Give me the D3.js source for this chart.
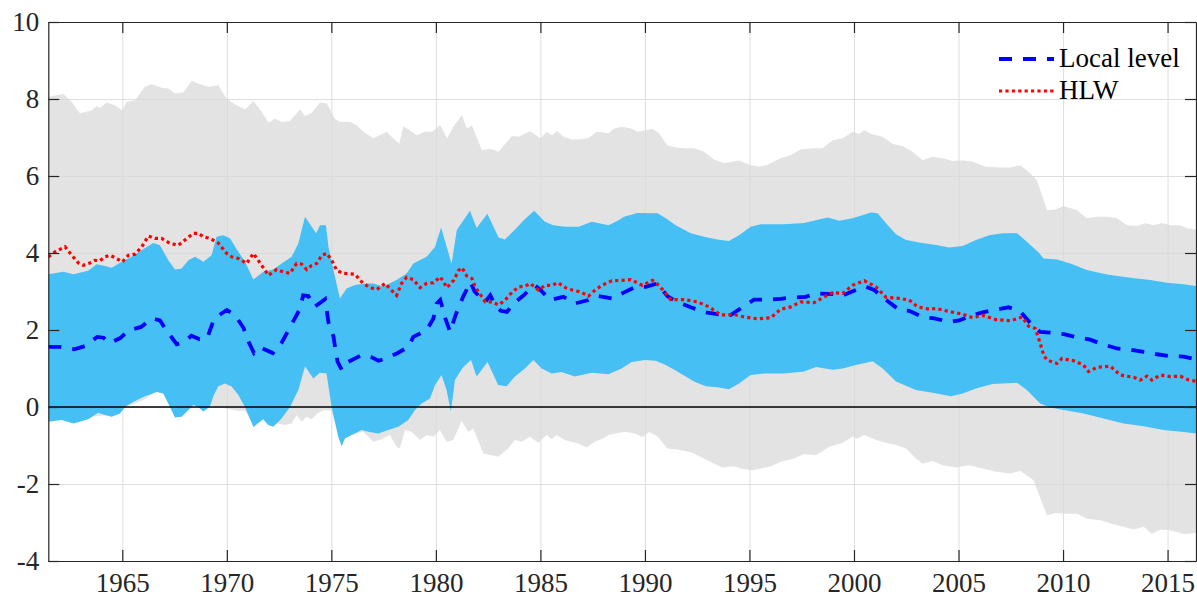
<!DOCTYPE html>
<html lang="en">

<head>
    <meta charset="UTF-8">
    <title>Natural rate: local level vs HLW</title>
    <style>
        body { margin: 0; background: #fff; }
        text { font-family: "Liberation Serif", "Times New Roman", serif; }
    </style>
    <script src="https://d3js.org/d3.v7.min.js"></script>
</head>

<body>
    <script>
        // ---- data: [year, value] ----
        var xTicks = [1965, 1970, 1975, 1980, 1985, 1990, 1995, 2000, 2005, 2010, 2015];
        var yTicks = [-4, -2, 0, 2, 4, 6, 8, 10];
        var seriesNames = ["Local level", "HLW"];

        var grayUpper = [[1961.46, 8.06], [1962.18, 8.13], [1962.58, 7.93], [1962.97, 7.63], [1963.53, 7.70], [1963.77, 7.82], [1963.93, 7.77], [1964.25, 7.91], [1964.65, 7.84], [1965.0, 7.70], [1965.2, 7.93], [1965.6, 7.96], [1966.08, 8.32], [1966.4, 8.38], [1966.88, 8.29], [1967.2, 8.27], [1967.52, 8.14], [1967.92, 8.17], [1968.32, 8.47], [1968.64, 8.40], [1969.11, 8.32], [1969.59, 8.36], [1970.0, 8.0], [1970.4, 7.86], [1970.87, 7.73], [1971.27, 7.95], [1971.67, 7.67], [1971.99, 7.38], [1972.3, 7.49], [1972.62, 7.40], [1973.02, 7.43], [1973.5, 7.73], [1973.74, 7.56], [1974.06, 7.64], [1974.46, 7.91], [1974.78, 7.88], [1975.17, 7.49], [1975.41, 7.40], [1975.89, 7.40], [1976.21, 7.32], [1976.53, 7.15], [1977.01, 6.98], [1977.65, 7.15], [1977.88, 7.02], [1978.25, 6.84], [1978.44, 7.29], [1978.76, 7.19], [1979.08, 7.06], [1979.48, 7.15], [1979.81, 7.15], [1980.21, 7.32], [1980.53, 6.98], [1980.93, 7.36], [1981.25, 7.58], [1981.48, 7.23], [1981.72, 7.32], [1982.2, 6.67], [1982.6, 6.71], [1983.0, 6.63], [1983.64, 7.04], [1983.96, 7.02], [1984.51, 7.16], [1985.0, 6.98], [1985.31, 7.15], [1985.55, 7.06], [1985.79, 7.17], [1986.11, 7.02], [1986.51, 6.95], [1986.83, 6.95], [1987.3, 6.98], [1987.7, 7.15], [1988.26, 7.11], [1988.5, 7.23], [1988.9, 7.28], [1989.38, 7.23], [1989.64, 7.15], [1990.04, 7.19], [1990.36, 7.23], [1990.67, 7.11], [1991.07, 6.80], [1991.47, 6.74], [1991.87, 6.72], [1992.35, 6.72], [1992.83, 6.63], [1993.3, 6.43], [1993.78, 6.33], [1994.5, 6.40], [1994.98, 6.29], [1995.46, 6.24], [1995.86, 6.29], [1996.49, 6.46], [1996.97, 6.54], [1997.45, 6.69], [1998.09, 6.72], [1998.5, 6.72], [1998.98, 6.93], [1999.46, 6.98], [1999.93, 7.15], [2000.25, 7.09], [2000.49, 7.19], [2000.89, 7.08], [2001.37, 7.02], [2001.85, 6.83], [2002.33, 6.78], [2002.8, 6.63], [2003.28, 6.41], [2003.76, 6.50], [2004.24, 6.46], [2004.72, 6.39], [2005.2, 6.41], [2005.67, 6.37], [2006.31, 6.24], [2006.95, 6.22], [2007.48, 6.22], [2007.96, 6.28], [2008.43, 6.07], [2008.75, 5.89], [2009.23, 5.11], [2009.63, 5.13], [2010.03, 5.22], [2010.67, 5.11], [2011.14, 4.90], [2011.62, 4.94], [2012.1, 4.94], [2012.58, 4.90], [2013.06, 4.72], [2013.54, 4.70], [2013.94, 4.77], [2014.33, 4.72], [2014.73, 4.78], [2015.13, 4.72], [2015.61, 4.72], [2015.93, 4.64], [2016.36, 4.61]];

        var grayLower = [[1961.46, -0.30], [1962.5, -0.35], [1963.5, -0.25], [1964.5, -0.20], [1965.13, 0.03], [1965.45, 0.05], [1966.08, 0.20], [1966.64, 0.40], [1966.96, 0.38], [1967.28, 0.05], [1967.52, -0.22], [1967.84, -0.20], [1968.16, -0.05], [1968.4, 0.08], [1968.63, 0.03], [1968.87, -0.08], [1969.19, 0.05], [1969.5, 0.0], [1970.0, -0.04], [1970.5, -0.10], [1970.87, -0.10], [1971.27, -0.45], [1971.74, -0.30], [1971.98, -0.42], [1972.22, -0.45], [1972.46, -0.43], [1972.78, -0.47], [1973.1, -0.43], [1973.34, -0.21], [1973.58, -0.38], [1973.82, -0.25], [1974.05, -0.32], [1974.37, -0.15], [1974.69, -0.08], [1975.0, -0.10], [1975.3, -0.60], [1975.65, -0.79], [1976.13, -0.70], [1976.53, -0.64], [1977.0, -0.90], [1977.4, -0.84], [1977.8, -0.73], [1978.12, -1.03], [1978.28, -1.08], [1978.52, -0.60], [1978.84, -0.64], [1979.24, -0.86], [1979.56, -0.73], [1979.88, -0.77], [1980.19, -0.60], [1980.51, -0.90], [1980.83, -0.86], [1981.23, -0.36], [1981.55, -0.64], [1981.79, -0.56], [1982.27, -1.21], [1982.67, -1.25], [1982.98, -1.29], [1983.46, -1.08], [1983.78, -0.86], [1984.1, -0.90], [1984.5, -0.77], [1984.9, -0.93], [1985.3, -0.73], [1985.54, -0.84], [1985.77, -0.73], [1986.17, -0.86], [1986.81, -0.95], [1987.21, -1.05], [1987.61, -0.90], [1988.0, -0.82], [1988.25, -0.73], [1988.56, -0.69], [1989.04, -0.64], [1989.52, -0.69], [1989.88, -0.78], [1990.2, -0.65], [1990.6, -0.76], [1991.07, -1.08], [1991.71, -1.12], [1992.27, -1.19], [1992.99, -1.38], [1993.7, -1.57], [1994.26, -1.54], [1994.58, -1.60], [1995.14, -1.64], [1995.54, -1.60], [1996.02, -1.54], [1996.49, -1.42], [1997.13, -1.34], [1997.61, -1.22], [1998.18, -1.25], [1998.82, -1.03], [1999.46, -0.93], [1999.93, -0.77], [2000.17, -0.82], [2000.49, -0.73], [2001.05, -0.86], [2001.53, -0.93], [2002.01, -0.99], [2002.49, -1.08], [2002.96, -1.34], [2003.28, -1.47], [2003.76, -1.40], [2004.24, -1.51], [2004.88, -1.57], [2005.51, -1.51], [2006.15, -1.60], [2006.79, -1.68], [2007.48, -1.73], [2007.96, -1.66], [2008.59, -1.90], [2009.23, -2.81], [2009.63, -2.75], [2010.19, -2.77], [2010.67, -2.77], [2011.14, -2.90], [2011.78, -2.94], [2012.34, -3.03], [2012.9, -3.11], [2013.38, -3.18], [2013.86, -3.11], [2014.25, -3.29], [2014.65, -3.18], [2015.13, -3.20], [2015.77, -3.30], [2016.36, -3.27]];

        var blueUpper = [[1961.46, 3.45], [1962.18, 3.51], [1962.66, 3.45], [1963.37, 3.54], [1963.77, 3.71], [1964.17, 3.66], [1964.49, 3.62], [1964.97, 3.77], [1965.45, 3.90], [1965.92, 4.07], [1966.48, 4.26], [1966.8, 4.20], [1967.2, 3.81], [1967.52, 3.57], [1967.84, 3.60], [1968.16, 3.81], [1968.48, 3.90], [1968.88, 3.77], [1969.27, 3.94], [1969.51, 4.42], [1969.83, 4.46], [1970.15, 4.38], [1970.47, 4.10], [1970.87, 3.77], [1971.27, 3.31], [1971.75, 3.51], [1972.22, 3.57], [1972.62, 3.73], [1973.1, 3.90], [1973.42, 4.25], [1973.74, 4.94], [1974.06, 4.68], [1974.27, 4.51], [1974.46, 4.72], [1974.74, 4.72], [1974.86, 4.16], [1975.1, 3.55], [1975.41, 2.82], [1975.73, 3.08], [1976.13, 3.17], [1976.69, 3.21], [1977.0, 3.21], [1977.49, 3.13], [1978.12, 3.30], [1978.6, 3.47], [1978.92, 3.73], [1979.56, 3.90], [1979.96, 4.16], [1980.25, 4.66], [1980.75, 3.72], [1981.0, 4.60], [1981.63, 5.10], [1981.95, 4.65], [1982.46, 5.02], [1983.0, 4.40], [1983.3, 4.35], [1983.8, 4.62], [1984.2, 4.85], [1984.7, 5.10], [1985.2, 4.82], [1985.6, 4.72], [1986.19, 4.68], [1986.83, 4.68], [1987.46, 4.81], [1988.26, 4.72], [1988.74, 4.85], [1989.0, 4.94], [1989.64, 5.04], [1990.6, 5.03], [1991.0, 4.90], [1991.47, 4.72], [1992.19, 4.51], [1992.83, 4.42], [1993.46, 4.35], [1994.02, 4.31], [1994.5, 4.46], [1995.06, 4.68], [1995.54, 4.75], [1996.65, 4.75], [1997.61, 4.78], [1998.18, 4.85], [1998.74, 4.92], [1999.3, 4.84], [1999.93, 4.90], [2000.81, 5.05], [2001.13, 5.03], [2001.53, 4.77], [2002.01, 4.49], [2002.49, 4.34], [2003.12, 4.27], [2003.92, 4.21], [2004.56, 4.14], [2005.2, 4.18], [2005.83, 4.34], [2006.47, 4.46], [2007.11, 4.51], [2007.8, 4.51], [2008.27, 4.29], [2008.83, 4.01], [2009.07, 3.86], [2009.71, 3.83], [2010.35, 3.73], [2011.14, 3.56], [2012.1, 3.44], [2013.22, 3.36], [2014.17, 3.30], [2014.97, 3.23], [2015.77, 3.19], [2016.36, 3.14]];

        var blueLower = [[1961.46, -0.38], [1962.1, -0.34], [1962.66, -0.43], [1963.37, -0.32], [1963.85, -0.15], [1964.17, -0.21], [1964.49, -0.25], [1964.89, -0.17], [1965.13, 0.0], [1965.45, 0.11], [1966.08, 0.28], [1966.64, 0.39], [1966.96, 0.35], [1967.28, 0.0], [1967.52, -0.27], [1967.84, -0.25], [1968.16, -0.08], [1968.4, 0.05], [1968.63, 0.0], [1968.87, -0.12], [1969.19, 0.0], [1969.35, 0.28], [1969.59, 0.54], [1969.91, 0.61], [1970.23, 0.53], [1970.55, 0.31], [1970.87, 0.0], [1971.27, -0.52], [1971.74, -0.32], [1971.98, -0.47], [1972.22, -0.51], [1972.62, -0.30], [1973.02, 0.0], [1973.42, 0.44], [1973.74, 1.06], [1974.14, 0.74], [1974.45, 0.89], [1974.77, 0.87], [1975.01, 0.0], [1975.33, -0.77], [1975.49, -1.02], [1975.65, -0.82], [1975.97, -0.73], [1976.45, -0.60], [1976.77, -0.64], [1977.24, -0.69], [1977.72, -0.60], [1978.2, -0.51], [1978.68, -0.34], [1979.0, -0.08], [1979.32, 0.09], [1979.72, 0.22], [1979.96, 0.57], [1980.27, 0.83], [1980.51, 0.44], [1980.72, -0.12], [1980.91, 0.70], [1981.31, 1.04], [1981.68, 1.22], [1981.95, 0.79], [1982.47, 1.17], [1982.98, 0.57], [1983.38, 0.54], [1983.78, 0.79], [1984.26, 1.0], [1984.66, 1.22], [1985.06, 1.0], [1985.54, 0.87], [1986.01, 0.91], [1986.65, 0.79], [1987.45, 0.89], [1988.25, 0.85], [1988.88, 1.0], [1989.36, 1.17], [1990.0, 1.22], [1990.51, 1.20], [1991.0, 1.09], [1991.55, 0.92], [1992.35, 0.66], [1992.91, 0.54], [1993.46, 0.51], [1994.02, 0.46], [1994.5, 0.61], [1995.06, 0.83], [1995.7, 0.87], [1996.65, 0.87], [1997.61, 0.92], [1998.18, 1.04], [1998.98, 0.97], [1999.46, 1.00], [2000.09, 1.09], [2000.89, 1.19], [2001.37, 1.00], [2002.01, 0.66], [2002.96, 0.44], [2003.76, 0.37], [2004.64, 0.28], [2005.2, 0.35], [2005.83, 0.48], [2006.63, 0.60], [2007.8, 0.63], [2008.27, 0.44], [2008.91, 0.09], [2009.39, -0.01], [2010.03, -0.08], [2010.98, -0.17], [2011.94, -0.30], [2012.9, -0.43], [2013.86, -0.50], [2014.81, -0.60], [2015.77, -0.65], [2016.36, -0.69]];

        var localLevel = [[1961.46, 1.56], [1962.0, 1.56], [1962.7, 1.50], [1963.2, 1.58], [1963.8, 1.82], [1964.1, 1.80], [1964.4, 1.66], [1964.9, 1.79], [1965.3, 1.99], [1965.9, 2.08], [1966.4, 2.30], [1966.8, 2.25], [1967.1, 2.00], [1967.6, 1.63], [1967.95, 1.68], [1968.3, 1.85], [1968.7, 1.76], [1969.05, 1.78], [1969.4, 2.30], [1970.0, 2.52], [1970.4, 2.38], [1970.8, 2.05], [1971.0, 1.74], [1971.3, 1.40], [1971.6, 1.55], [1972.2, 1.40], [1972.55, 1.60], [1972.95, 2.00], [1973.2, 2.25], [1973.5, 2.55], [1973.65, 2.90], [1973.9, 2.88], [1974.2, 2.60], [1974.7, 2.80], [1974.86, 2.20], [1975.1, 1.83], [1975.2, 1.48], [1975.3, 1.17], [1975.5, 0.96], [1975.8, 1.17], [1976.45, 1.35], [1976.93, 1.29], [1977.25, 1.20], [1977.6, 1.26], [1978.13, 1.39], [1978.68, 1.56], [1978.92, 1.82], [1979.56, 2.00], [1979.88, 2.30], [1980.04, 2.69], [1980.21, 2.78], [1980.45, 2.30], [1980.68, 1.95], [1980.95, 2.40], [1981.3, 2.86], [1981.65, 3.25], [1981.85, 3.00], [1982.35, 2.72], [1982.6, 2.90], [1982.84, 2.65], [1983.1, 2.50], [1983.4, 2.47], [1983.72, 2.69], [1984.2, 2.90], [1984.6, 3.12], [1984.75, 3.15], [1985.0, 3.04], [1985.47, 2.78], [1986.1, 2.86], [1986.67, 2.69], [1987.3, 2.78], [1987.78, 2.88], [1988.42, 2.82], [1988.98, 2.97], [1989.56, 3.12], [1990.04, 3.12], [1990.6, 3.21], [1991.07, 2.88], [1991.55, 2.73], [1992.19, 2.59], [1992.91, 2.46], [1993.46, 2.41], [1994.1, 2.39], [1994.58, 2.56], [1995.22, 2.79], [1995.86, 2.79], [1996.49, 2.81], [1996.97, 2.84], [1997.69, 2.86], [1998.17, 2.95], [1998.98, 2.93], [1999.38, 2.88], [2000.09, 3.04], [2000.57, 3.12], [2000.97, 3.04], [2001.53, 2.78], [2002.17, 2.52], [2002.64, 2.50], [2003.28, 2.34], [2003.84, 2.30], [2004.56, 2.21], [2005.04, 2.25], [2005.67, 2.38], [2006.15, 2.46], [2007.11, 2.56], [2007.4, 2.59], [2007.96, 2.48], [2008.43, 2.18], [2008.91, 1.95], [2009.39, 1.93], [2010.03, 1.89], [2010.67, 1.81], [2011.3, 1.75], [2011.78, 1.65], [2012.58, 1.52], [2013.22, 1.49], [2013.86, 1.43], [2014.49, 1.37], [2015.13, 1.32], [2015.77, 1.31], [2016.36, 1.24]];

        var hlw = [[1961.46, 3.90], [1961.78, 4.03], [1962.26, 4.16], [1962.58, 3.94], [1962.9, 3.74], [1963.13, 3.68], [1963.45, 3.74], [1963.69, 3.81], [1963.93, 3.80], [1964.17, 3.90], [1964.41, 3.94], [1964.65, 3.88], [1965.0, 3.77], [1965.29, 3.94], [1965.61, 3.97], [1965.93, 4.16], [1966.24, 4.44], [1966.56, 4.38], [1966.88, 4.38], [1967.28, 4.25], [1967.68, 4.20], [1968.0, 4.34], [1968.4, 4.51], [1968.64, 4.51], [1968.88, 4.42], [1969.19, 4.38], [1969.59, 4.26], [1969.99, 3.99], [1970.23, 3.90], [1970.55, 3.86], [1970.95, 3.73], [1971.27, 3.99], [1971.59, 3.74], [1971.99, 3.42], [1972.38, 3.57], [1972.7, 3.51], [1973.02, 3.47], [1973.34, 3.73], [1973.58, 3.71], [1973.82, 3.57], [1974.06, 3.68], [1974.3, 3.73], [1974.54, 3.94], [1974.78, 3.99], [1975.02, 3.81], [1975.25, 3.55], [1975.57, 3.47], [1976.13, 3.45], [1976.45, 3.25], [1976.77, 3.12], [1977.17, 3.05], [1977.57, 3.21], [1977.88, 3.03], [1978.12, 2.90], [1978.36, 3.21], [1978.6, 3.37], [1978.92, 3.31], [1979.24, 3.10], [1979.56, 3.21], [1979.88, 3.23], [1980.21, 3.38], [1980.53, 3.10], [1980.85, 3.29], [1981.09, 3.55], [1981.25, 3.62], [1981.48, 3.40], [1981.72, 3.34], [1981.88, 3.12], [1982.12, 2.93], [1982.36, 2.73], [1982.68, 2.73], [1983.0, 2.65], [1983.32, 2.78], [1983.64, 2.98], [1983.96, 3.12], [1984.27, 3.14], [1984.51, 3.21], [1984.91, 3.04], [1985.23, 3.16], [1985.55, 3.16], [1985.84, 3.23], [1986.19, 3.10], [1986.51, 3.04], [1986.91, 2.99], [1987.3, 2.88], [1987.62, 3.04], [1987.94, 3.16], [1988.42, 3.28], [1988.9, 3.29], [1989.32, 3.31], [1989.88, 3.16], [1990.36, 3.29], [1990.67, 3.16], [1991.0, 2.95], [1991.23, 2.79], [1991.87, 2.79], [1992.51, 2.73], [1993.07, 2.60], [1993.62, 2.39], [1994.26, 2.40], [1994.74, 2.34], [1995.38, 2.29], [1996.02, 2.32], [1996.49, 2.54], [1996.97, 2.60], [1997.45, 2.73], [1998.09, 2.71], [1998.58, 2.86], [1998.98, 2.97], [1999.46, 2.95], [1999.93, 3.16], [2000.49, 3.28], [2001.05, 3.12], [2001.53, 2.85], [2002.17, 2.82], [2002.64, 2.78], [2003.04, 2.60], [2003.6, 2.54], [2003.92, 2.56], [2004.56, 2.48], [2005.2, 2.41], [2005.67, 2.32], [2006.15, 2.38], [2006.79, 2.27], [2007.48, 2.24], [2008.04, 2.34], [2008.35, 2.10], [2008.67, 2.04], [2008.91, 1.65], [2009.07, 1.35], [2009.23, 1.22], [2009.71, 1.13], [2009.95, 1.26], [2010.51, 1.20], [2010.98, 1.09], [2011.22, 0.92], [2011.62, 1.03], [2012.26, 1.06], [2012.74, 0.83], [2013.38, 0.77], [2013.7, 0.70], [2014.01, 0.80], [2014.25, 0.70], [2014.65, 0.83], [2015.13, 0.79], [2015.61, 0.80], [2016.01, 0.70], [2016.36, 0.67]];

        // ---- layout ----
        var width = 1197, height = 597;
        var plotLeft = 48.3, plotRight = 1196, plotTop = 22, plotBottom = 561;
        var axisColor = "#262626";

        var svg = d3.select("body")
            .append("svg")
            .attr("width", width)
            .attr("height", height)
            .style("display", "block")
            .style("background", "#fff");

        var x = d3.scaleLinear().domain([1961.46, 2016.36]).range([plotLeft, plotRight]);
        var y = d3.scaleLinear().domain([-4, 10]).range([plotBottom, plotTop]);

        svg.append("clipPath").attr("id", "plot")
            .append("rect").attr("x", plotLeft).attr("y", plotTop)
            .attr("width", plotRight - plotLeft).attr("height", plotBottom - plotTop);

        // grid
        var grid = svg.append("g").attr("class", "grid");
        grid.append("g")
            .attr("transform", "translate(0," + plotBottom + ")")
            .call(d3.axisBottom(x).tickValues(xTicks).tickSize(-(plotBottom - plotTop)).tickFormat(""));
        grid.append("g")
            .attr("transform", "translate(" + plotLeft + ",0)")
            .call(d3.axisLeft(y).tickValues(yTicks).tickSize(-(plotRight - plotLeft)).tickFormat(""));
        grid.selectAll(".domain").remove();
        grid.selectAll("line").attr("stroke", "#dedede").attr("stroke-width", 1);

        var line = d3.line().x(function (d) { return x(d[0]); }).y(function (d) { return y(d[1]); });

        function band(upper, lower) {
            return line(upper.concat(lower.slice().reverse())) + "Z";
        }

        var plot = svg.append("g").attr("clip-path", "url(#plot)");

        plot.append("path")
            .attr("d", band(grayUpper, grayLower))
            .attr("fill", "#d8d8d8")
            .attr("fill-opacity", 0.72);

        plot.append("path")
            .attr("d", band(blueUpper, blueLower))
            .attr("fill", "#46bff4");

        // zero line
        plot.append("line")
            .attr("x1", plotLeft).attr("x2", plotRight)
            .attr("y1", y(0)).attr("y2", y(0))
            .attr("stroke", "#000").attr("stroke-width", 1.7);

        plot.append("path")
            .attr("d", line(localLevel))
            .attr("fill", "none")
            .attr("stroke", "#0000ff")
            .attr("stroke-width", 3.8)
            .attr("stroke-dasharray", "13,11");

        plot.append("path")
            .attr("d", line(hlw))
            .attr("fill", "none")
            .attr("stroke", "#ff0000")
            .attr("stroke-width", 3.2)
            .attr("stroke-dasharray", "3.2,3.2");

        // axes: inward ticks on all four sides
        var tickLen = 11;
        var xAxis = svg.append("g")
            .attr("transform", "translate(0," + plotBottom + ")")
            .call(d3.axisBottom(x).tickValues(xTicks).tickSizeInner(-tickLen).tickSizeOuter(0)
                .tickPadding(12).tickFormat(function (d) { return String(d); }));
        var yAxis = svg.append("g")
            .attr("transform", "translate(" + plotLeft + ",0)")
            .call(d3.axisLeft(y).tickValues(yTicks).tickSizeInner(-tickLen).tickSizeOuter(0)
                .tickPadding(9).tickFormat(function (d) { return String(d); }));
        var topAxis = svg.append("g")
            .attr("transform", "translate(0," + plotTop + ")")
            .call(d3.axisTop(x).tickValues(xTicks).tickSizeInner(-tickLen).tickSizeOuter(0).tickFormat(""));
        var rightAxis = svg.append("g")
            .attr("transform", "translate(" + plotRight + ",0)")
            .call(d3.axisRight(y).tickValues(yTicks).tickSizeInner(-tickLen).tickSizeOuter(0).tickFormat(""));

        [xAxis, yAxis, topAxis, rightAxis].forEach(function (g) {
            g.selectAll(".domain").attr("stroke", axisColor).attr("stroke-width", 1.2);
            g.selectAll(".tick line").attr("stroke", axisColor).attr("stroke-width", 1.2);
            g.selectAll("text")
                .attr("fill", axisColor)
                .style("font-family", '"Liberation Serif", "Times New Roman", serif')
                .style("font-size", "27px");
        });

        // legend
        var legend = svg.append("g");
        var legendRows = [
            { name: seriesNames[0], color: "#0000ff", width: 3.8, dash: "13,11", ly: 59 },
            { name: seriesNames[1], color: "#ff0000", width: 3.2, dash: "3.2,3.2", ly: 91 }
        ];
        legendRows.forEach(function (r) {
            legend.append("line")
                .attr("x1", 999).attr("x2", 1054)
                .attr("y1", r.ly).attr("y2", r.ly)
                .attr("stroke", r.color)
                .attr("stroke-width", r.width)
                .attr("stroke-dasharray", r.dash);
            legend.append("text")
                .attr("x", 1059).attr("y", r.ly + 7.5)
                .attr("fill", "#000")
                .style("font-size", "27px")
                .text(r.name);
        });
    </script>
</body>

</html>
